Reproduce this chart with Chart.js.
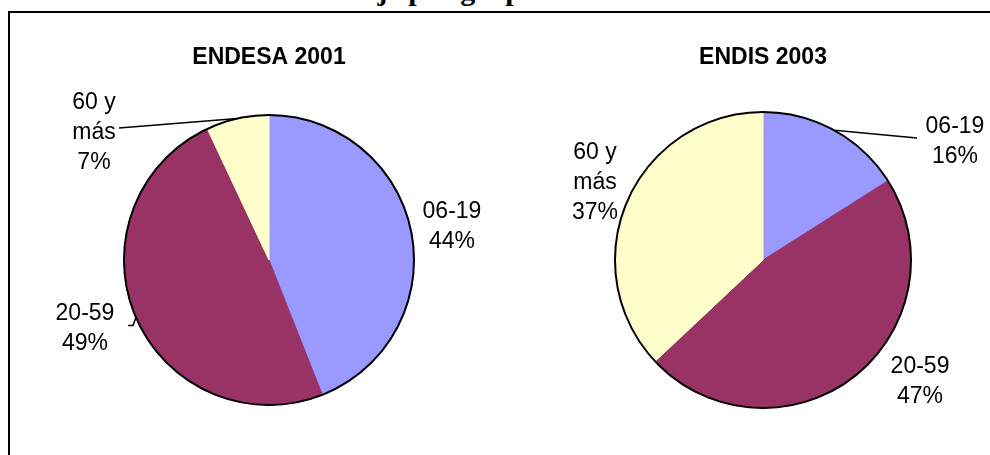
<!DOCTYPE html>
<html>
<head>
<meta charset="utf-8">
<script src="https://cdn.jsdelivr.net/npm/chart.js@4/dist/chart.umd.min.js"></script>
<style>
  html, body { margin:0; padding:0; width:990px; height:455px; overflow:hidden; background:#fff; }
  #frame { position:absolute; left:8px; top:11px; width:1000px; height:500px;
           border-top:2px solid #000; border-left:2px solid #000; }
  #maintitle { position:absolute; left:263px; top:-25px; font:bold 30px "Liberation Serif","Times New Roman",serif;
               line-height:30px; white-space:nowrap; color:#000; }
  canvas { position:absolute; top:0; }
  #c1 { left:19px; }
  #c2 { left:513px; }
</style>
</head>
<body>
<div id="maintitle">Porcentaje por grupo de edad</div>
<div id="frame"></div>
<canvas id="c1" width="500" height="455"></canvas>
<canvas id="c2" width="500" height="455"></canvas>
<script>
// ---- data ----
const categories = ['06-19', '20-59', '60 y más'];
const endesa2001 = [44, 49, 7];
const endis2003 = [16, 47, 37];
const chartTitles = ['ENDESA 2001', 'ENDIS 2003'];
const sliceColors = ['#9999FF', '#993366', '#FFFFCC'];

function labelLines(cat) {
  return cat === '60 y más' ? ['60 y', 'más'] : [cat];
}

const pieLabels = {
  id: 'pieLabels',
  afterDatasetsDraw(chart, args, opts) {
    const meta = chart.getDatasetMeta(0);
    const ctx = chart.ctx;
    const ds = chart.data.datasets[0].data;
    const total = ds.reduce((a, b) => a + b, 0);
    const p0 = meta.data[0].getProps(['x', 'y', 'outerRadius'], true);
    const cx = p0.x, cy = p0.y, r = p0.outerRadius;
    ctx.save();
    // outer outline
    ctx.beginPath();
    ctx.arc(cx, cy, r, 0, Math.PI * 2);
    ctx.lineWidth = 2;
    ctx.strokeStyle = '#000';
    ctx.stroke();
    ctx.font = '23px "Liberation Sans", Arial, sans-serif';
    ctx.fillStyle = '#000';
    ctx.textAlign = 'center';
    ctx.textBaseline = 'middle';
    meta.data.forEach((arc, i) => {
      const pl = opts.places[i];
      const lx = cx + pl.dx * r, ly = cy + pl.dy * r;
      const lines = labelLines(chart.data.labels[i]).concat([Math.round(ds[i] / total * 100) + '%']);
      const lh = 30;
      const y0 = ly - (lines.length - 1) * lh / 2;
      lines.forEach((t, k) => ctx.fillText(t, lx, y0 + k * lh));
      if (pl.leader) {
        const a = arc.getProps(['startAngle', 'endAngle'], true);
        const mid = (a.startAngle + a.endAngle) / 2;
        ctx.beginPath();
        pl.leader.forEach((pt, k) => {
          if (k === 0) ctx.moveTo(lx + pt[0], ly + pt[1]);
          else ctx.lineTo(lx + pt[0], ly + pt[1]);
        });
        ctx.lineTo(cx + r * Math.cos(mid), cy + r * Math.sin(mid));
        ctx.lineWidth = 1.5;
        ctx.stroke();
      }
    });
    ctx.restore();
  }
};

function makePie(id, values, title, radius, places) {
  return new Chart(document.getElementById(id), {
    type: 'pie',
    data: {
      labels: categories,
      datasets: [{
        data: values,
        backgroundColor: sliceColors,
        borderColor: sliceColors,
        borderWidth: 1
      }]
    },
    options: {
      responsive: false,
      animation: false,
      devicePixelRatio: 1,
      radius: radius,
      layout: { padding: { top: 0, bottom: 25.4, left: 0, right: 0 } },
      plugins: {
        legend: { display: false },
        tooltip: { enabled: false },
        title: {
          display: true,
          text: title,
          color: '#000',
          font: { family: '"Liberation Sans", Arial, sans-serif', size: 23, weight: 'bold', lineHeight: 1.15 },
          padding: { top: 44, bottom: 20 }
        },
        pieLabels: { places: places }
      }
    },
    plugins: [pieLabels]
  });
}

makePie('c1', endesa2001, chartTitles[0], 145, [
  { dx: 1.262, dy: -0.228 },
  { dx: -1.269, dy: 0.476, leader: [[43, -3.5], [48, -3.5]] },
  { dx: -1.207, dy: -0.876, leader: [[25, -5]] }
]);
makePie('c2', endis2003, chartTitles[1], 148, [
  { dx: 1.297, dy: -0.797, leader: [[-38, -4]] },
  { dx: 1.061, dy: 0.824 },
  { dx: -1.135, dy: -0.52 }
]);
</script>
</body>
</html>
